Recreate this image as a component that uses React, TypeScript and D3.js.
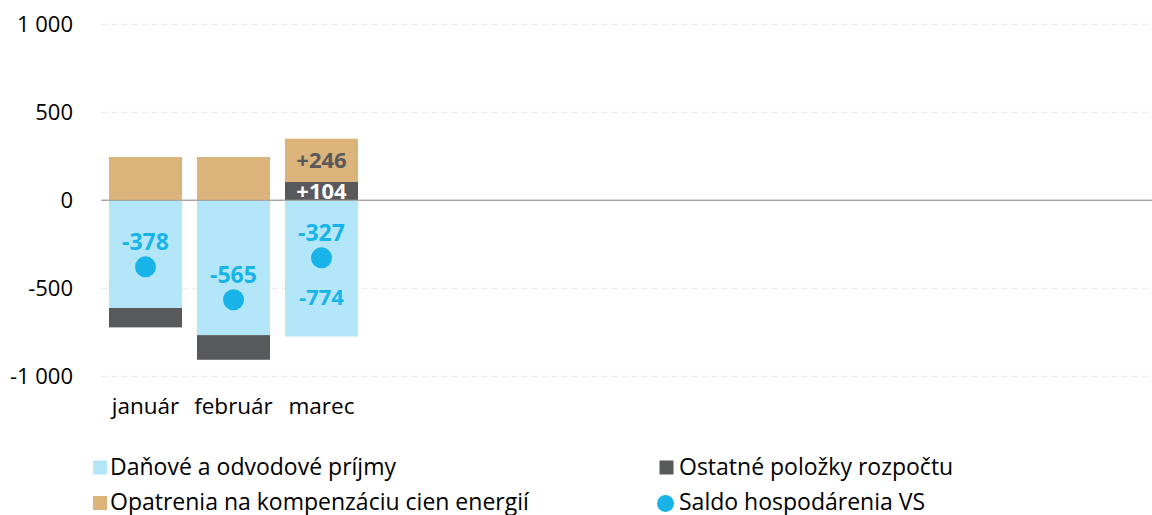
import React from "react";
import * as d3 from "d3";

// months on the axis (only first quarter has data)
const months = ["január", "február", "marec", "apríl", "máj", "jún", "júl", "august", "september", "október", "november", "december"];
const shownMonths = ["január", "február", "marec"];

// values in mil. eur
const danove = [-612, -766, -774];
const opatrenia = [246, 246, 246];
const ostatne = [-110, -140, 104];
const saldo = [-378, -565, -327];

const yTicks = [1000, 500, 0, -500, -1000];

const C_BLUE = "#b3e6f8";
const C_TAN = "#dbb37b";
const C_DARK = "#58595b";
const C_CYAN = "#18b4e9";

const FONT = "'Open Sans', sans-serif";

const fmt = (v: number) => (v < 0 ? "-" : "") + d3.format(",")(Math.abs(v)).replace(/,/g, " ");

export default function App() {
  const width = 1152;
  const height = 515;

  const x = d3
    .scaleBand<string>()
    .domain(months)
    .range([101.5, 1157.5])
    .paddingInner(0.17)
    .paddingOuter(0.085);

  const y = d3.scaleLinear().domain([-1000, 1000]).range([376.3, 24.3]);

  // stack segments: positives stack upward, negatives downward
  const segs: { m: string; y0: number; y1: number; fill: string }[] = [];
  shownMonths.forEach((m, i) => {
    let pos = 0;
    let neg = 0;
    const parts = [
      { v: danove[i], fill: C_BLUE },
      { v: ostatne[i], fill: C_DARK },
      { v: opatrenia[i], fill: C_TAN },
    ];
    parts.forEach((p) => {
      if (p.v >= 0) {
        segs.push({ m, y0: pos, y1: pos + p.v, fill: p.fill });
        pos += p.v;
      } else {
        segs.push({ m, y0: neg, y1: neg + p.v, fill: p.fill });
        neg += p.v;
      }
    });
  });

  const bw = x.bandwidth();
  const cx = (m: string) => (x(m) ?? 0) + bw / 2;

  return (
    <svg
      width={width}
      height={height}
      style={{ position: "absolute", left: 0, top: 0, background: "#fff" }}
      fontFamily={FONT}
    >
      {/* grid */}
      {yTicks.map((t) => (
        <g key={t}>
          <line
            x1={101.5}
            x2={width}
            y1={y(t)}
            y2={y(t)}
            stroke={t === 0 ? "#a6a6a6" : "#e6e6e6"}
            strokeWidth={t === 0 ? 1.3 : 1}
            strokeDasharray={t === 0 ? undefined : "6,4"}
          />
          <text x={73} y={y(t)} dy="0.36em" textAnchor="end" fontSize={22} fill="#000">
            {fmt(t)}
          </text>
        </g>
      ))}

      {/* bars */}
      {segs.map((s, i) => (
        <rect
          key={i}
          x={x(s.m)}
          y={y(Math.max(s.y0, s.y1))}
          width={bw}
          height={Math.abs(y(s.y0) - y(s.y1))}
          fill={s.fill}
        />
      ))}
      <line x1={101.5} x2={width} y1={y(0)} y2={y(0)} stroke="#a6a6a6" strokeWidth={1.3} />

      {/* march labels */}
      <text x={cx("marec")} y={y(danove[2]) - 32} textAnchor="middle" fontSize={22} fontWeight={700} fill={C_CYAN}>
        {fmt(danove[2])}
      </text>
      <text
        x={cx("marec")}
        y={(y(ostatne[2]) + y(0)) / 2}
        dy="0.36em"
        textAnchor="middle"
        fontSize={22}
        fontWeight={700}
        fill="#fff"
      >
        +{ostatne[2]}
      </text>
      <text
        x={cx("marec")}
        y={(y(ostatne[2]) + y(ostatne[2] + opatrenia[2])) / 2}
        dy="0.36em"
        textAnchor="middle"
        fontSize={22}
        fontWeight={700}
        fill="#595959"
      >
        +{opatrenia[2]}
      </text>

      {/* saldo */}
      {shownMonths.map((m, i) => (
        <g key={m}>
          <circle cx={cx(m)} cy={y(saldo[i])} r={10.5} fill={C_CYAN} />
          <text x={cx(m)} y={y(saldo[i]) - 17} textAnchor="middle" fontSize={23} fontWeight={700} fill={C_CYAN}>
            {fmt(saldo[i])}
          </text>
        </g>
      ))}

      {/* x labels */}
      {shownMonths.map((m) => (
        <text key={m} x={cx(m)} y={414} textAnchor="middle" fontSize={22.5} fill="#000">
          {m}
        </text>
      ))}

      {/* legend */}
      <g fontSize={23} fill="#000">
        <rect x={93} y={460.5} width={14} height={14} fill={C_BLUE} />
        <text x={110} y={475}>Daňové a odvodové príjmy</text>
        <rect x={93} y={496} width={14} height={14} fill={C_TAN} />
        <text x={110} y={509.5}>Opatrenia na kompenzáciu cien energií</text>
        <rect x={659.5} y={460.5} width={14} height={14} fill={C_DARK} />
        <text x={679} y={475}>Ostatné položky rozpočtu</text>
        <circle cx={665.5} cy={503.5} r={8.5} fill={C_CYAN} />
        <text x={679} y={509.5}>Saldo hospodárenia VS</text>
      </g>
    </svg>
  );
}
